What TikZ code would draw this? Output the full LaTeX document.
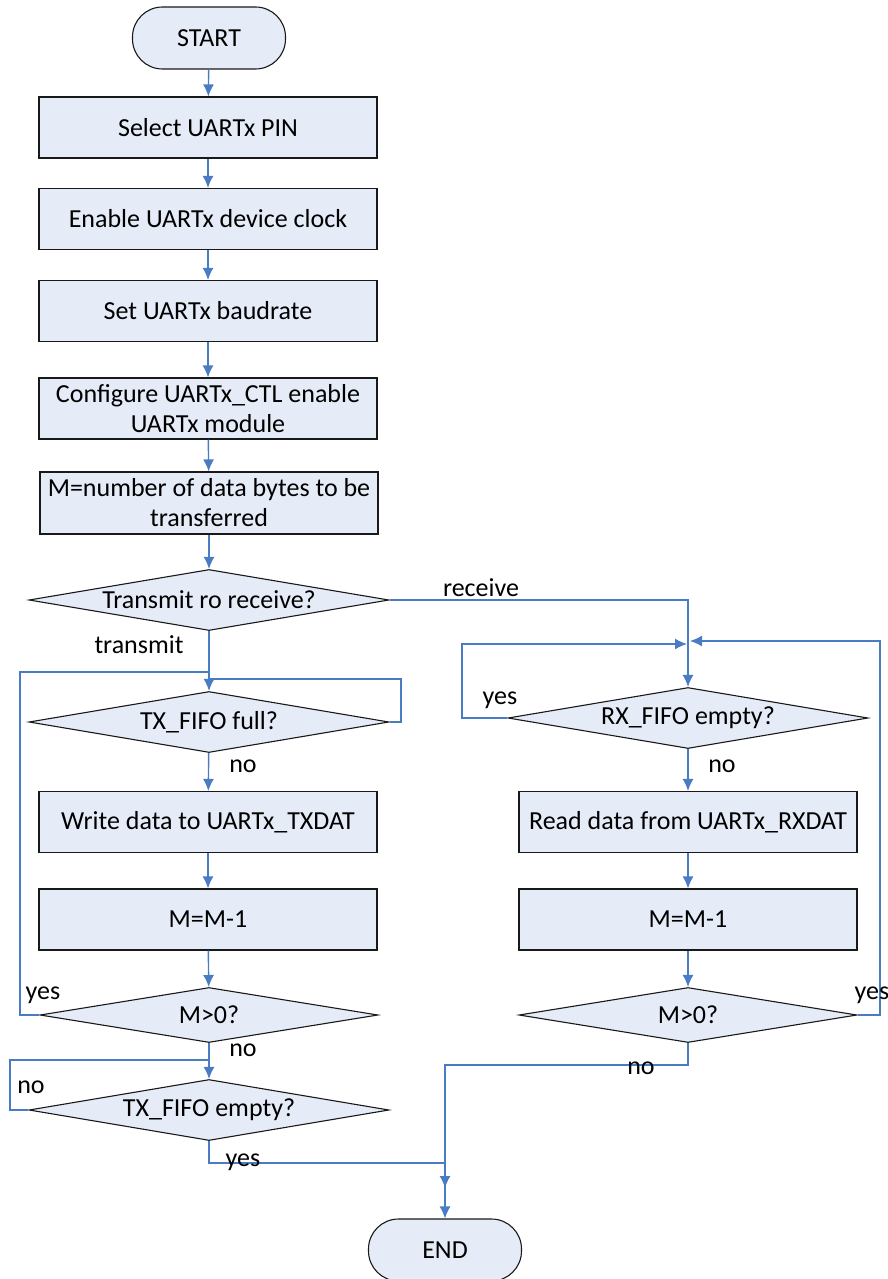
\documentclass[tikz,border=0pt]{standalone}
\usepackage{fontspec}
\setmainfont{Carlito}
\usetikzlibrary{shapes.geometric,arrows.meta}

\definecolor{boxfill}{HTML}{E6ECF7}
\definecolor{linkblue}{HTML}{4A7CC4}

\begin{document}
\begin{tikzpicture}[x=1pt,y=-1pt,
  font=\fontsize{26}{30}\selectfont,
  proc/.style={draw=black!90,line width=1.1pt,fill=boxfill,minimum width=338pt,minimum height=61pt,inner sep=2pt,align=center},
  term/.style={draw=black!90,line width=1.1pt,fill=boxfill,rounded corners=30pt,minimum width=153pt,minimum height=62pt},
  test/.style={diamond,aspect=5.9,draw=black!90,line width=1.1pt,fill=boxfill,inner sep=0pt,minimum width=360pt,minimum height=61pt},
  link/.style={draw=linkblue,line width=1.4pt},
  go/.style={link,-{Latex[length=12pt,width=11pt]}}]

\useasboundingbox (0,0) rectangle (887,1279);

% Inicio e configuracao
\node[term] (start) at (209,38) {START};
\node[proc] (pin) at (208,127.5) {Select UARTx PIN};
\node[proc] (clock) at (208,219) {Enable UARTx device clock};
\node[proc] (baud) at (208,311) {Set UARTx baudrate};
\node[proc] (ctl) at (208,408.5) {Configure UARTx\_CTL enable\\UARTx module};
\node[proc,minimum height=62pt] (count) at (209,503) {M=number of data bytes to be\\transferred};
\node[test] (mode) at (209,600) {Transmit ro receive?};

\draw[go] (start) -- (pin);
\draw[go] (pin) -- (clock);
\draw[go] (clock) -- (baud);
\draw[go] (baud) -- (ctl);
\draw[go] (ctl) -- (count);
\draw[go] (count) -- (mode);

% Ramo de transmissao
\node[test] (txfull) at (209,722) {TX\_FIFO full?};
\node[proc] (write) at (208,822) {Write data to UARTx\_TXDAT};
\node[proc] (txdec) at (208,919.5) {M=M-1};
\node[test,aspect=6.1,minimum width=338pt,minimum height=55pt] (txmore) at (209,1015) {M>0?};
\node[test] (txempty) at (209,1110) {TX\_FIFO empty?};

\coordinate (txjoin) at (209,672);
\coordinate (txwait) at (209,679);
\coordinate (emptyjoin) at (209,1060);

\draw[go] (mode) -- (txfull);
\node at (139,645) {transmit};
\draw[link] (txfull.east) -- (401,722) |- (txwait);
\draw[go] (txfull) -- (write);
\node at (243,766) {no};
\draw[go] (write) -- (txdec);
\draw[go] (txdec) -- (txmore);
\draw[link] (txmore.west) -- (20,1015) |- (txjoin);
\node at (43,995) {yes};
\draw[go] (txmore) -- (txempty);
\node at (243,1050) {no};
\draw[link] (txempty.west) -- (10,1110) |- (emptyjoin);
\node at (31,1087) {no};

% Ramo de recepcao
\node[test] (rxempty) at (688,718) {RX\_FIFO empty?};
\node[proc] (read) at (688,822) {Read data from UARTx\_RXDAT};
\node[proc] (rxdec) at (688,919.5) {M=M-1};
\node[test,aspect=6.1,minimum width=338pt,minimum height=55pt] (rxmore) at (688,1015) {M>0?};

\coordinate (rxleft) at (687,644);
\coordinate (rxright) at (690,641);

\draw[go] (mode.east) -| (rxempty.north);
\node at (481,588) {receive};
\draw[go] (rxempty.west) -- (462,718) |- (rxleft);
\node at (500,700) {yes};
\draw[go] (rxempty) -- (read);
\node at (722,766) {no};
\draw[go] (read) -- (rxdec);
\draw[go] (rxdec) -- (rxmore);
\draw[go] (rxmore.east) -- (880,1015) |- (rxright);
\node at (872,995) {yes};

% Fim
\node[term] (end) at (445,1250) {END};
\coordinate (endjoin) at (445,1188);

\draw[go] (rxmore.south) |- (445,1065) -- (endjoin);
\node at (641,1068) {no};
\draw[go] (txempty.south) |- (445,1163) -- (end.north);
\node at (243,1162) {yes};

\end{tikzpicture}
\end{document}
